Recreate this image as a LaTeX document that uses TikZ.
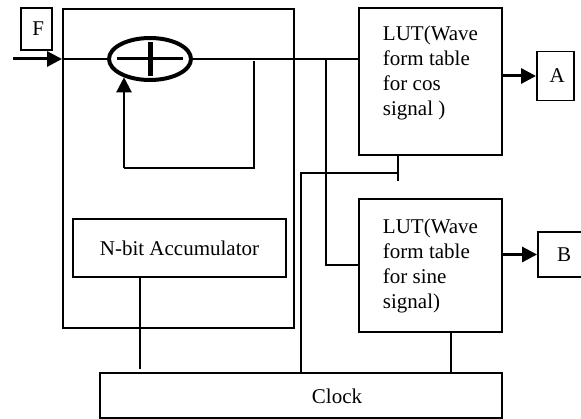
\documentclass[tikz,border=0pt]{standalone}
\usepackage{fontspec}
\setmainfont{Liberation Serif}
\usetikzlibrary{arrows.meta,shapes.geometric,positioning,calc}

\begin{document}
\begin{tikzpicture}[
    x=1pt, y=-1pt,
    box/.style={draw, line width=1.9pt, inner sep=0pt, align=left, font=\fontsize{21}{25}\selectfont},
    lbl/.style={font=\fontsize{21}{25}\selectfont},
    wire/.style={line width=2pt},
    arr/.style={-{Triangle[length=15pt,width=15pt]}, line width=3pt}
]
\useasboundingbox (0,0) rectangle (581,419);

% blocks
\node[box, minimum width=31, minimum height=42] (fin) at (36.5,29) {\,F};
\node[box, minimum width=231, minimum height=319] (dds) at (178.5,168.5) {};
\node[draw, ellipse, line width=4pt, minimum width=82, minimum height=42, inner sep=0pt] (adder) at (150,59) {};
\node[box, minimum width=213, minimum height=58, align=center] (acc) at (179.5,248) {N-bit Accumulator};
\node[box, minimum width=143, minimum height=147, text depth=22pt] (lutc) at (430.5,81.5) {LUT(Wave\\form table\\for cos\\signal )};
\node[box, minimum width=143, minimum height=133] (luts) at (430.5,265.5) {LUT(Wave\\form table\\for sine\\signal)};
\node[box, minimum width=37, minimum height=49] (outa) at (555.5,76) {\,A};
\node[box, minimum width=52, minimum height=45] (outb) at (564,254.5) {B};
\node[box, minimum width=402, minimum height=45] (clock) at (301,395.5) {};
\node[lbl] (clocktxt) at (337,396) {Clock};

% plus sign
\draw[line width=3pt] ([xshift=-33pt]adder.center) -- ([xshift=33pt]adder.center);
\draw[line width=5pt] ([yshift=16.5pt]adder.center) -- ([yshift=-17.5pt]adder.center);

% phase path
\coordinate (inp) at (13,59);
\coordinate (tap) at (254,61);
\coordinate (fb) at (124,168);
\coordinate (split) at (326,59);
\draw[arr] (inp) -- (inp -| dds.west);
\draw[wire] (inp -| dds.west) -- (adder.west);
\draw[wire, line width=2.6pt] (adder.east) -- (adder.east -| lutc.west);
\draw[wire] (tap) |- (fb);
\draw[arr, line width=2.2pt] (fb) -- (fb |- adder.215);
\draw[wire] (split) |- (luts.west);
\draw[arr] (lutc.east |- outa.west) -- (outa.west);
\draw[arr] (luts.east |- outb.west) -- (outb.west);

% clock lines
\coordinate (stub) at (398,173);
\draw[wire] (clock.north) |- (stub);
\draw[wire] (stub |- lutc.south) -- ++(0,25);
\draw[wire] ([xshift=20pt]luts.south) -- ([xshift=20pt]luts.south |- clock.north);
\draw[wire] ([xshift=-40pt]acc.south) -- ++(0,91);
\end{tikzpicture}
\end{document}
